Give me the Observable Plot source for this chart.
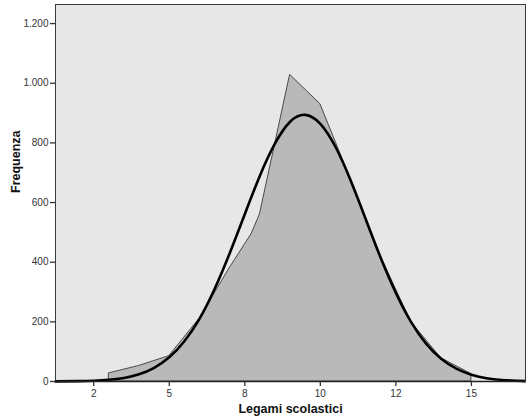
<!DOCTYPE html>
<html>
<head>
<meta charset="utf-8">
<script src="https://cdn.jsdelivr.net/npm/d3@7"></script>
<script src="https://cdn.jsdelivr.net/npm/@observablehq/plot@0.6"></script>
<style>
  html, body { margin: 0; padding: 0; background: #ffffff; }
  #chart svg { display: block; }
</style>
</head>
<body>
<div id="chart"></div>
<script>
// Frequency polygon (histogram area) — x value, frequency
const polyX = [3, 3, 4, 5, 6, 7, 7.73, 8, 9, 10, 11, 12, 13, 14, 15, 15];
const polyY = [0, 27, 52, 85, 210, 380, 495, 560, 1028, 930, 680, 420, 200, 78, 25, 0];

// Fitted normal curve
const curveX = [1.24, 2, 2.5, 3, 3.5, 4, 4.5, 5, 5.5, 6, 6.5, 7, 7.5, 8, 8.5, 9, 9.5, 10, 10.5, 11, 11.5, 12, 12.5, 13, 13.5, 14, 14.5, 15, 15.5, 16, 16.5, 16.79];
const curveY = [0.3, 1.1, 2.6, 5.8, 12, 24, 46, 81, 135, 210, 310, 430, 561, 690, 798, 871, 894, 864, 787, 675, 545, 414, 297, 200, 127, 76, 43, 23, 11, 5, 2.4, 1.4];

// Axis ticks and labels
const xTicks = [2.5, 5, 7.5, 10, 12.5, 15];
const xTickLabels = ["2", "5", "8", "10", "12", "15"];
const yTicks = [0, 200, 400, 600, 800, 1000, 1200];
const yTickLabels = ["0", "200", "400", "600", "800", "1.000", "1.200"];

const xTitle = "Legami scolastici";
const yTitle = "Frequenza";

const poly = polyX.map((x, i) => ({x, y: polyY[i]}));
const curve = curveX.map((x, i) => ({x, y: curveY[i]}));

const chart = Plot.plot({
  width: 526,
  height: 418,
  marginLeft: 55,
  marginRight: 1,
  marginTop: 4,
  marginBottom: 37,
  style: {fontFamily: "'Liberation Sans', Arial, sans-serif", fontSize: "10px", color: "#333", background: "#ffffff"},
  x: {domain: [1.235, 16.79]},
  y: {domain: [0, 1264]},
  marks: [
    Plot.frame({fill: "#e7e7e7", stroke: null}),
    Plot.areaY(poly, {x: "x", y: "y", fill: "#b9b9b9", stroke: "#3a3a3a", strokeWidth: 0.9}),
    Plot.line(curve, {x: "x", y: "y", curve: "natural", stroke: "#000", strokeWidth: 2.6}),
    Plot.frame({stroke: "#3c3c3c", strokeWidth: 1}),
    Plot.ruleY([0], {stroke: "#222", strokeWidth: 1.6}),
    Plot.axisX({ticks: xTicks, tickFormat: d => xTickLabels[xTicks.indexOf(d)], tickSize: 5, tickPadding: 3, label: null, stroke: "#333", strokeWidth: 1.3, fill: "#333"}),
    Plot.axisY({ticks: yTicks, tickFormat: d => yTickLabels[yTicks.indexOf(d)], tickSize: 5, tickPadding: 2, label: null, stroke: "#333", strokeWidth: 1.3, fill: "#333"}),
    Plot.text([xTitle], {frameAnchor: "bottom", dy: 27.5, lineAnchor: "middle", fontWeight: "bold", fontSize: 12.5, fill: "#111"}),
    Plot.text([yTitle], {frameAnchor: "left", dx: -39.5, rotate: -90, lineAnchor: "middle", fontWeight: "bold", fontSize: 12.5, fill: "#111"})
  ]
});
document.getElementById("chart").appendChild(chart);
</script>
</body>
</html>
